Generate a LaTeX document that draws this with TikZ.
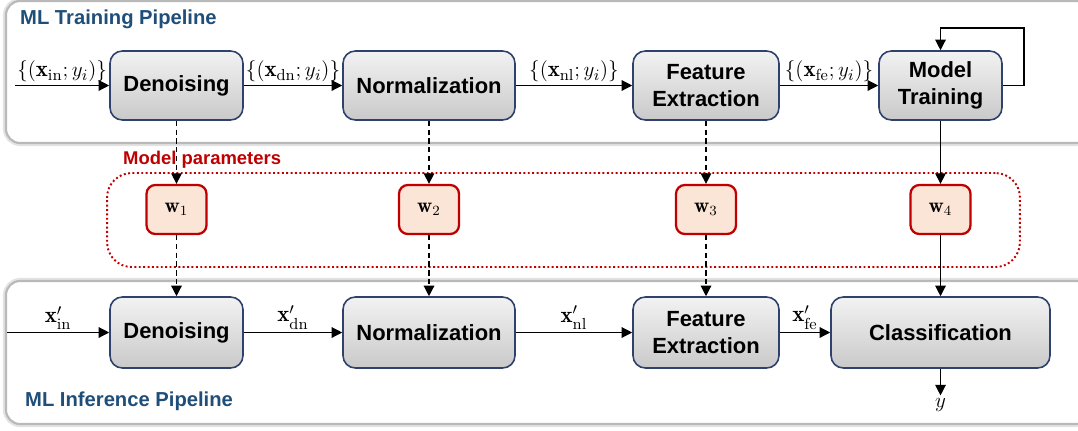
\documentclass[tikz,border=0pt]{standalone}
\usepackage{amsmath}
\usepackage{amssymb}
\usepackage{fontspec}
\newfontfamily\arialfont{Liberation Sans}
\usepackage{tikz}
\usetikzlibrary{positioning, arrows.meta}

\definecolor{titleblue}{RGB}{31,78,121}
\definecolor{boxline}{RGB}{47,66,110}
\definecolor{parred}{RGB}{192,0,0}
\definecolor{parfill}{RGB}{251,229,214}

\tikzset{
  stage/.style={draw=boxline, line width=0.9pt, rounded corners=7pt, top color=gray!10, bottom color=gray!42,
    align=center, inner sep=0pt, minimum height=1.38cm,
    font=\arialfont\bfseries\fontsize{12.5}{15.5}\selectfont},
  param/.style={draw=parred, line width=1.3pt, rounded corners=5pt, fill=parfill,
    minimum width=1.2cm, minimum height=0.98cm, font=\fontsize{12}{14}\selectfont},
  paramgroup/.style={draw=parred, line width=1.1pt, dash pattern=on 1.1pt off 1.4pt, rounded corners=14pt},
  panel/.style={draw=gray!55, line width=1.2pt, rounded corners=8pt, fill=white},
  panelshade/.style={draw=gray!22, line width=3.5pt, rounded corners=8pt},
  flow/.style={-{Triangle[length=6pt,width=6pt]}, line width=0.7pt},
  pass/.style={flow, dash pattern=on 3pt off 2pt},
  lbl/.style={font=\fontsize{13}{15}\selectfont, inner sep=1.5pt},
  paneltitle/.style={anchor=west, text=titleblue, font=\arialfont\bfseries\fontsize{11.5}{13}\selectfont}
}

\begin{document}
\begin{tikzpicture}[x=0.02cm, y=-0.02cm]
\useasboundingbox (0,0) rectangle (1078,430);
% the two pipeline panels
\begin{scope}
\clip (0,0) rectangle (1078,430);
\draw[panelshade] (6,1) rectangle (1090,143);
\draw[panel] (6,1) rectangle (1090,143);
\draw[panelshade] (6,281) rectangle (1090,424);
\draw[panel] (6,281) rectangle (1090,424);
\end{scope}

% training pipeline
\node[paneltitle] (ttitle) at (14,19) {ML Training Pipeline};
\coordinate (tin) at (15,85.5);
\node[stage, minimum width=2.66cm] (tdn) at (176.5,85.5) {Denoising};
\node[stage, minimum width=3.44cm] (tnl) at (429,85.5) {Normalization};
\node[stage, minimum width=2.92cm] (tfe) at (706,85.5) {Feature\\Extraction};
\node[stage, minimum width=2.46cm] (tmt) at (940.5,85.5) {Model\\Training};
\coordinate (loop) at (1024,28);

\draw[flow] (tin) -- node[lbl, above] {$\{(\mathbf{x}_{\mathrm{in}};y_i)\}$} (tdn.west);
\draw[flow] (tdn) -- node[lbl, above] {$\{(\mathbf{x}_{\mathrm{dn}};y_i)\}$} (tnl);
\draw[flow] (tnl) -- node[lbl, above] {$\{(\mathbf{x}_{\mathrm{nl}};y_i)\}$} (tfe);
\draw[flow] (tfe) -- node[lbl, above] {$\{(\mathbf{x}_{\mathrm{fe}};y_i)\}$} (tmt);
\draw[flow] (tmt.east) -| (loop) -| (tmt.north);

% model parameters
\node[paramgroup, minimum width=18.26cm, minimum height=1.88cm] (grp) at (563.5,220) {};
\node[anchor=west, text=parred, font=\arialfont\bfseries\fontsize{10.5}{12}\selectfont] (grplbl) at (117,160) {Model parameters};
\node[param] (w1) at (176.5,209.5) {$\mathbf{w}_1$};
\node[param] (w2) at (429,209.5) {$\mathbf{w}_2$};
\node[param] (w3) at (706,209.5) {$\mathbf{w}_3$};
\node[param] (w4) at (940.5,209.5) {$\mathbf{w}_4$};

% inference pipeline
\node[paneltitle] (ititle) at (19,401) {ML Inference Pipeline};
\coordinate (iin) at (7,332.5);
\node[stage, minimum width=2.66cm, minimum height=1.42cm] (idn) at (176.5,332.5) {Denoising};
\node[stage, minimum width=3.44cm, minimum height=1.42cm] (inl) at (429,332.5) {Normalization};
\node[stage, minimum width=2.92cm, minimum height=1.42cm] (ife) at (706,332.5) {Feature\\Extraction};
\node[stage, minimum width=4.38cm, minimum height=1.42cm] (icl) at (940.5,332.5) {Classification};
\node[lbl] (yout) at (940.5,405) {$y$};

\draw[flow] (iin) -- node[lbl, above] {$\mathbf{x}'_{\mathrm{in}}$} (idn.west);
\draw[flow] (idn) -- node[lbl, above] {$\mathbf{x}'_{\mathrm{dn}}$} (inl);
\draw[flow] (inl) -- node[lbl, above] {$\mathbf{x}'_{\mathrm{nl}}$} (ife);
\draw[flow] (ife) -- node[lbl, above] {$\mathbf{x}'_{\mathrm{fe}}$} (icl);
\draw[flow] (icl) -- (yout);

% parameter hand-over
\draw[pass] (tdn) -- (w1);
\draw[pass] (tnl) -- (w2);
\draw[pass] (tfe) -- (w3);
\draw[flow] (tmt) -- (w4);
\draw[pass] (w1) -- (idn);
\draw[pass] (w2) -- (inl);
\draw[pass] (w3) -- (ife);
\draw[flow] (w4) -- (icl);
\end{tikzpicture}
\end{document}
